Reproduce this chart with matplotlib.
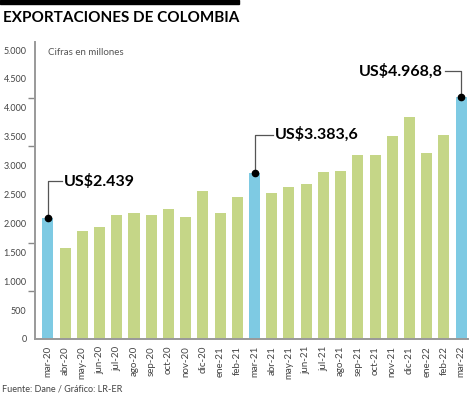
import numpy as np
import matplotlib
matplotlib.use("Agg")
import matplotlib.pyplot as plt

plt.rcParams['font.family'] = ['Lato', 'DejaVu Sans']

# Data (millions of US$)
months = ["mar-20", "abr-20", "may-20", "jun-20", "jul-20", "ago-20", "sep-20",
          "oct-20", "nov-20", "dic-20", "ene-21", "feb-21", "mar-21", "abr-21",
          "may-21", "jun-21", "jul-21", "ago-21", "sep-21", "oct-21", "nov-21",
          "dic-21", "ene-22", "feb-22", "mar-22"]
values = [2090, 1570, 1870, 1930, 2145, 2175, 2145, 2245, 2115, 2560, 2185, 2455,
          2880, 2520, 2625, 2675, 2885, 2910, 3190, 3190, 3510, 3845, 3225, 3535, 4180]
highlight = ["mar-20", "mar-21", "mar-22"]
callouts = ["US$2.439", "US$3.383,6", "US$4.968,8"]

green = "#c5d687"
blue = "#7ecae3"
grey = "#555555"

fig = plt.figure(figsize=(4.74, 3.95), dpi=100)
ax = fig.add_axes([35 / 474, 56 / 395, 433 / 474, 297 / 395])

x = np.arange(len(months))
colors = [blue if m in highlight else green for m in months]
ax.bar(x, values, width=0.64, color=colors, zorder=2)

ax.set_xlim(-0.75, len(months) - 0.6)
ax.set_ylim(0, 5140)

# tick labels every 500, tick marks drawn on their own spacing like the original
ax.set_yticks(np.arange(0, 5001, 500))
ax.set_yticklabels([f"{v:,}".replace(",", ".") for v in range(0, 5001, 500)])
ax.set_yticks(np.linspace(0, 5000, 7), minor=True)
ax.tick_params(axis="y", which="major", length=0, pad=6, labelsize=6.5, labelcolor="#444444")
ax.tick_params(axis="y", which="minor", length=5, width=1, color="#888888", direction="out")

ax.set_xticks(x)
ax.set_xticklabels(months, rotation=90, fontsize=7, color="#444444")
ax.tick_params(axis="x", length=0, pad=5)

for side in ["top", "right"]:
    ax.spines[side].set_visible(False)
ax.spines["left"].set_color("#999999")
ax.spines["bottom"].set_color("#999999")
ax.spines["left"].set_linewidth(1.4)
ax.spines["bottom"].set_linewidth(1.4)

# callouts on highlighted bars
px_y = 5000 / 289.0
px_x = 1 / 17.2
offsets = [(37, 14, 1), (38, 18, 1), (26, -16, -1)]  # rise px, run px, direction
for m, txt, (rise, run, d) in zip(highlight, callouts, offsets):
    i = months.index(m)
    top = values[i]
    y2 = top + rise * px_y
    x2 = i + run * px_x
    ax.plot([i, i, x2], [top, y2, y2], color=grey, lw=0.9, zorder=3, clip_on=False)
    ax.plot(i, top, "o", color="black", ms=4.5, zorder=4, clip_on=False)
    ha = "left" if d > 0 else "right"
    ax.text(x2 + d * 2 * px_x, y2, txt, ha=ha, va="center", fontsize=11.5,
            fontweight="bold", color="black")

ax.text(0.0, 4950, "Cifras en millones", fontsize=7, color="#555555",
        va="center", ha="left")

# header and footer
fig.patches.append(plt.Rectangle((0, 1 - 4 / 395), 239 / 474, 4 / 395,
                                 transform=fig.transFigure, color="black"))
fig.text(3 / 474, 1 - 18 / 395, "EXPORTACIONES DE COLOMBIA", fontsize=11,
         fontweight="bold", va="center", ha="left")
fig.text(2 / 474, 1 - 389 / 395, "Fuente: Dane / Gráfico: LR-ER", fontsize=6.5,
         color="#444444", va="center", ha="left")

fig.savefig("out.png", dpi=100)
